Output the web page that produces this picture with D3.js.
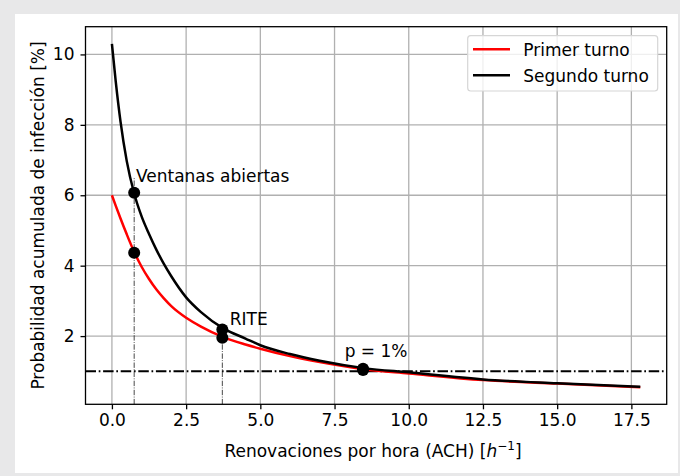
<!DOCTYPE html>
<html>
<head>
<meta charset="utf-8">
<script src="https://cdn.jsdelivr.net/npm/d3@7/dist/d3.min.js"></script>
<style>
    html, body { margin: 0; padding: 0; background: #e8e8e9; }
    svg { display: block; }
    text { font-family: "DejaVu Sans", sans-serif; fill: #000; }
</style>
</head>
<body>
<svg id="svg" width="680" height="476"></svg>
<script>
// valores
var ach = [0, 0.13, 0.29, 0.5, 0.75, 1, 1.25, 1.5, 1.75, 2, 2.5, 3, 3.75, 4.5, 5, 6, 7, 8.5, 10, 12.5, 15, 17.8];
var primerTurno = [6.0, 5.70, 5.34, 4.89, 4.39, 3.97, 3.62, 3.32, 3.07, 2.85, 2.52, 2.27, 1.97, 1.76, 1.64, 1.43, 1.26, 1.06, 0.94, 0.75, 0.65, 0.55];
var segundoTurno = [10.3, 9.22, 8.09, 6.97, 6.05, 5.4, 4.9, 4.45, 4.05, 3.7, 3.1, 2.68, 2.22, 1.93, 1.74, 1.49, 1.3, 1.09, 0.97, 0.77, 0.66, 0.56];

var puntosX = [0.75, 0.75, 3.72, 3.72, 8.46, 8.46];
var puntosY = [6.07, 4.37, 2.19, 1.95, 1.07, 1.04];

var guiasX = [0.75, 3.72];
var guiasY = [6.5, 2.2];
var limite = 1;

var etiquetas = ["Ventanas abiertas", "RITE", "p = 1%"];
var etiquetasX = [0.81, 3.97, 7.84];
var etiquetasY = [6.37, 2.31, 1.40];

var xTicks = [0, 2.5, 5, 7.5, 10, 12.5, 15, 17.5];
var yTicks = [2, 4, 6, 8, 10];
var series = ["Primer turno", "Segundo turno"];
var colores = ["#ff0000", "#000000"];

var svg = d3.select('#svg');
var area = {left: 85.5, right: 666.7, top: 26.7, bottom: 404.3};

// panel blanco
svg.append('rect').attr('x', 15).attr('y', 14).attr('width', 663).attr('height', 459).attr('fill', '#fff');

var x = d3.scaleLinear().domain([-0.89, 18.69]).range([area.left, area.right]);
var y = d3.scaleLinear().domain([0.0625, 10.7875]).range([area.bottom, area.top]);

// grid
var grid = svg.append('g').attr('stroke', '#b0b0b0').attr('stroke-width', 1.3);
xTicks.forEach(function (t) {
    grid.append('line').attr('x1', x(t)).attr('x2', x(t)).attr('y1', area.top).attr('y2', area.bottom);
});
yTicks.forEach(function (t) {
    grid.append('line').attr('x1', area.left).attr('x2', area.right).attr('y1', y(t)).attr('y2', y(t));
});

// p = 1%
svg.append('line')
    .attr('x1', area.left).attr('x2', area.right)
    .attr('y1', y(limite)).attr('y2', y(limite))
    .attr('stroke', '#000').attr('stroke-width', 2)
    .attr('stroke-dasharray', '10.5,2.7,1.7,2.7');

// guias verticales
guiasX.forEach(function (g, i) {
    svg.append('line')
        .attr('x1', x(g)).attr('x2', x(g))
        .attr('y1', area.bottom).attr('y2', y(guiasY[i]))
        .attr('stroke', '#333').attr('stroke-width', 0.9)
        .attr('stroke-dasharray', '5.4,1.4,0.9,1.4');
});

var linea = d3.line()
    .x(function (d, i) { return x(ach[i]); })
    .y(function (d) { return y(d); })
    .curve(d3.curveMonotoneX);

[primerTurno, segundoTurno].forEach(function (serie, i) {
    svg.append('path')
        .attr('d', linea(serie))
        .attr('fill', 'none')
        .attr('stroke', colores[i])
        .attr('stroke-width', 2.5);
});

puntosX.forEach(function (p, i) {
    svg.append('circle').attr('cx', x(p)).attr('cy', y(puntosY[i])).attr('r', 6).attr('fill', '#000');
});

etiquetas.forEach(function (t, i) {
    svg.append('text')
        .attr('x', x(etiquetasX[i])).attr('y', y(etiquetasY[i]))
        .attr('font-size', 17)
        .text(t);
});

// ejes
var xAxis = d3.axisBottom(x).tickValues(xTicks).tickFormat(d3.format('.1f')).tickSize(5).tickPadding(5).tickSizeOuter(0);
var yAxis = d3.axisLeft(y).tickValues(yTicks).tickFormat(d3.format('d')).tickSize(5).tickPadding(6).tickSizeOuter(0);

var gx = svg.append('g').attr('transform', 'translate(0,' + area.bottom + ')').call(xAxis);
var gy = svg.append('g').attr('transform', 'translate(' + area.left + ',0)').call(yAxis);
[gx, gy].forEach(function (g) {
    g.select('.domain').remove();
    g.selectAll('line').attr('stroke', '#000').attr('stroke-width', 1.3);
    g.selectAll('text').attr('font-size', 17).attr('font-family', '"DejaVu Sans", sans-serif').attr('fill', '#000');
});

svg.append('rect')
    .attr('x', area.left).attr('y', area.top)
    .attr('width', area.right - area.left).attr('height', area.bottom - area.top)
    .attr('fill', 'none').attr('stroke', '#000').attr('stroke-width', 1.3);

// titulos de ejes
var xl = svg.append('text').attr('x', 373).attr('y', 457).attr('font-size', 17).attr('text-anchor', 'middle');
xl.append('tspan').text('Renovaciones por hora (ACH) [');
xl.append('tspan').attr('font-style', 'italic').text('h');
xl.append('tspan').attr('font-size', 12).attr('dy', -7).text('\u22121');
xl.append('tspan').attr('dy', 7).text(']');

svg.append('text')
    .attr('transform', 'translate(44,' + ((area.top + area.bottom) / 2) + ') rotate(-90)')
    .attr('font-size', 17).attr('text-anchor', 'middle')
    .text('Probabilidad acumulada de infección [%]');

// leyenda
var leyenda = svg.append('g');
leyenda.append('rect')
    .attr('x', 467.7).attr('y', 35.7).attr('width', 190).attr('height', 55.3).attr('rx', 3)
    .attr('fill', 'rgba(255,255,255,0.8)').attr('stroke', '#d6d6d6').attr('stroke-width', 1.2);
series.forEach(function (s, i) {
    var ly = 49.3 + i * 26;
    leyenda.append('line').attr('x1', 473).attr('x2', 510).attr('y1', ly).attr('y2', ly)
        .attr('stroke', colores[i]).attr('stroke-width', 2.5);
    leyenda.append('text').attr('x', 523.3).attr('y', ly + 6.5).attr('font-size', 17).text(s);
});
</script>
</body>
</html>
